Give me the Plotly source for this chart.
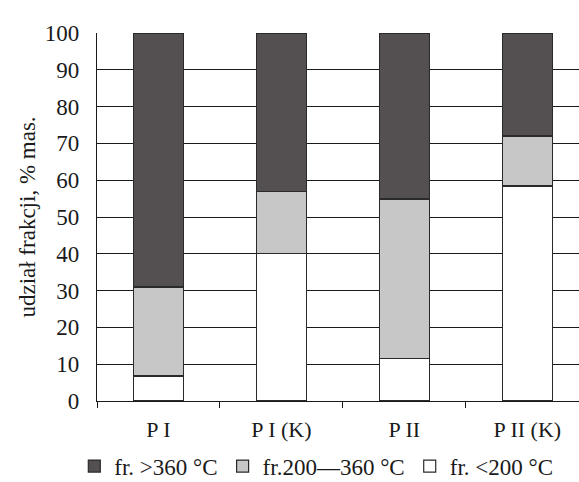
import plotly.graph_objects as go

categories = ["P I", "P I (K)", "P II", "P II (K)"]
light = [6.8, 40.0, 11.5, 58.4]          # fr. <200 °C
middle = [24.2, 16.9, 43.4, 13.6]         # fr. 200—360 °C
heavy = [69.0, 43.1, 45.1, 28.0]          # fr. >360 °C
series_names = ["fr. >360 °C", "fr.200—360 °C", "fr. <200 °C"]
tick_vals = [0, 10, 20, 30, 40, 50, 60, 70, 80, 90, 100]

font = "Liberation Serif, Times New Roman, serif"
edge = dict(color="#2a2a2a", width=1.2)

fig = go.Figure()
fig.add_trace(go.Bar(x=categories, y=light, name=series_names[2],
                     marker=dict(color="#ffffff", line=edge), width=0.41, legendrank=3))
fig.add_trace(go.Bar(x=categories, y=middle, name=series_names[1],
                     marker=dict(color="#c8c7c8", line=edge), width=0.41, legendrank=2))
fig.add_trace(go.Bar(x=categories, y=heavy, name=series_names[0],
                     marker=dict(color="#545051", line=edge), width=0.41, legendrank=1))

fig.update_layout(
    barmode="stack",
    width=579, height=482,
    margin=dict(l=97, r=0, t=33, b=81, autoexpand=False),
    paper_bgcolor="white", plot_bgcolor="white",
    font=dict(family=font, color="#1a1a1a", size=23),
    showlegend=True,
    legend=dict(orientation="h", x=0.455, xanchor="center", yref="container",
                y=0.033, yanchor="middle",
                traceorder="normal", font=dict(size=23, family=font),
                itemwidth=30, tracegroupgap=0),
    xaxis=dict(range=[-0.5, 3.42], showgrid=False, showline=True, linecolor="#1a1a1a",
               linewidth=1.2, ticks="outside", tickson="boundaries", ticklen=6,
               tickcolor="#1a1a1a", tickfont=dict(size=22, family=font),
               ticklabelstandoff=8, automargin=False),
    yaxis=dict(range=[0, 100], tickvals=tick_vals, showgrid=True, gridcolor="#1a1a1a",
               gridwidth=1.2, showline=True, linecolor="#1a1a1a", linewidth=1.2,
               ticks="", tickfont=dict(size=23, family=font), zeroline=False,
               ticklabelstandoff=12, automargin=False,
               title=dict(text="udział frakcji, % mas.", font=dict(size=23, family=font),
                          standoff=2)),
)
fig.write_html("out.html")
